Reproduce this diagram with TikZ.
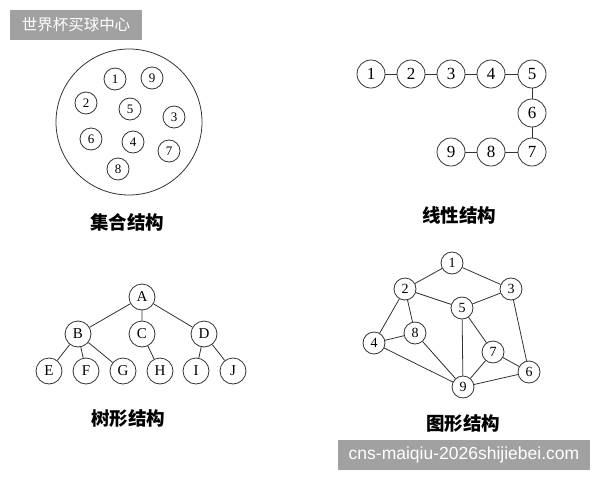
\documentclass[tikz,border=0pt]{standalone}
\usepackage{fontspec}
\setmainfont{Liberation Serif}
\newfontfamily\cjk{Noto Sans CJK SC}
\newfontfamily\wmfont{Liberation Sans}
\begin{document}
\begin{tikzpicture}[x=1pt,y=-1pt,
  ln/.style={draw=black!80,line width=0.8pt},
  sc/.style={circle,ln,minimum size=22pt,inner sep=0pt,font=\fontsize{13}{13}\selectfont},
  lc/.style={circle,ln,minimum size=28pt,inner sep=0pt,font=\fontsize{17}{17}\selectfont},
  tc/.style={circle,ln,minimum size=26pt,inner sep=0pt,font=\fontsize{15}{15}\selectfont},
  gc/.style={circle,ln,minimum size=22pt,inner sep=0pt,font=\fontsize{14}{14}\selectfont},
  captext/.style={font=\cjk\bfseries\fontsize{18.5}{18.5}\selectfont},
  wm/.style={fill=black!37,text=white,inner sep=0pt}
]
\useasboundingbox (0,0) rectangle (600,480);
\fill[white] (0,0) rectangle (600,480);
% watermarks
\node[wm,minimum width=132pt,minimum height=30pt,font=\cjk\fontsize{15.5}{15.5}\selectfont] (wm1) at (76,25) {世界杯买球中心};
\node[wm,minimum width=252pt,minimum height=30pt,font=\wmfont\fontsize{17.5}{17.5}\selectfont] (wm2) at (464,455) {cns-maiqiu-2026shijiebei.com};

% set structure
\node[circle,ln,minimum size=146pt,inner sep=0pt] (big) at (129,122) {};
\node[sc] (s1) at (115,79) {1};
\node[sc] (s9) at (152,78) {9};
\node[sc] (s2) at (86,103) {2};
\node[sc] (s5) at (130,109) {5};
\node[sc] (s3) at (174,117) {3};
\node[sc] (s6) at (91,139) {6};
\node[sc] (s4) at (133,142) {4};
\node[sc] (s7) at (169,151) {7};
\node[sc] (s8) at (118,169) {8};
\node[captext] (c1) at (127,222) {集合结构};

% linear
\node[lc] (l1) at (371,74) {1};
\node[lc] (l2) at (411,74) {2};
\node[lc] (l3) at (451,74) {3};
\node[lc] (l4) at (491,74) {4};
\node[lc] (l5) at (532,74) {5};
\node[lc] (l6) at (532,113) {6};
\node[lc] (l7) at (532,152) {7};
\node[lc] (l8) at (491,152) {8};
\node[lc] (l9) at (451,152) {9};
\draw[ln] (l1)--(l2) (l2)--(l3) (l3)--(l4) (l4)--(l5) (l5)--(l6) (l6)--(l7) (l7)--(l8) (l8)--(l9);
\node[captext] (c2) at (459,215) {线性结构};

% tree
\node[tc] (tA) at (142,297) {A};
\node[tc] (tB) at (78,334) {B};
\node[tc] (tC) at (142,334) {C};
\node[tc] (tD) at (204,334) {D};
\node[tc] (tE) at (49,371) {E};
\node[tc] (tF) at (86,371) {F};
\node[tc] (tG) at (123,371) {G};
\node[tc] (tH) at (160,371) {H};
\node[tc] (tI) at (196,371) {I};
\node[tc] (tJ) at (233,371) {J};
\draw[ln] (tA)--(tB) (tA)--(tC) (tA)--(tD) (tB)--(tE) (tB)--(tF) (tB)--(tG) (tC)--(tH) (tD)--(tI) (tD)--(tJ);
\node[captext] (c3) at (128,418) {树形结构};

% graph
\node[gc] (g1) at (452,263) {1};
\node[gc] (g2) at (405,289) {2};
\node[gc] (g3) at (511,289) {3};
\node[gc] (g5) at (462,308) {5};
\node[gc] (g8) at (415,333) {8};
\node[gc] (g4) at (374,343) {4};
\node[gc] (g7) at (493,352) {7};
\node[gc] (g6) at (529,372) {6};
\node[gc] (g9) at (463,387) {9};
\draw[ln] (g1)--(g2) (g1)--(g3) (g2)--(g5) (g3)--(g5) (g2)--(g4) (g2)--(g8) (g4)--(g8) (g4)--(g9) (g8)--(g9) (g5)--(g9) (g5)--(g7) (g7)--(g9) (g7)--(g6) (g3)--(g6) (g9)--(g6);
\node[captext] (c4) at (463,423) {图形结构};
\end{tikzpicture}
\end{document}
